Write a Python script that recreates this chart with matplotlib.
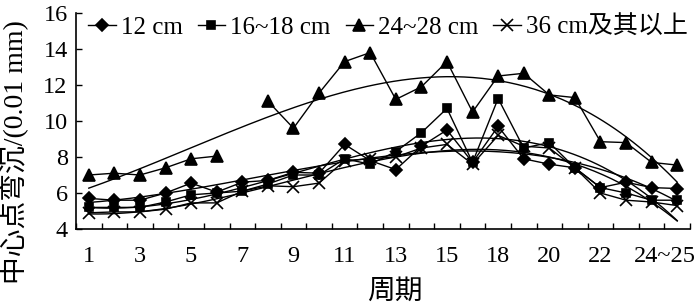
import numpy as np
import matplotlib
matplotlib.use('Agg')
import matplotlib.pyplot as plt

plt.rcParams['font.family'] = ['Liberation Serif', 'Noto Sans CJK SC']

# --- data ---
periods = [str(i) for i in range(1, 16)] + ['16~17', '18', '19', '20', '21', '22', '23', '24', '25']
d12 = [5.7, 5.6, 5.6, 6.0, 6.55, 6.05, 6.6, 6.7, 7.15, 7.1, 8.7, 7.8,
       7.3, 8.6, 9.5, 7.7, 9.7, 7.9, 7.6, 7.4, 6.3, 6.6, 6.3, 6.25]
d16 = [5.2, 5.2, 5.2, 5.5, 5.9, 6.0, 6.1, 6.5, 7.0, 7.0, 7.9, 7.6,
       8.3, 9.35, 10.7, 7.7, 11.25, 8.5, 8.8, 7.4, 6.3, 6.0, 5.6, 5.6]
d24 = [7.0, 7.1, 7.0, 7.4, 7.9, 8.05, np.nan, 11.1, 9.6, 11.55, 13.3, 13.8,
       11.2, 11.9, 13.3, 10.5, 12.5, 12.65, 11.45, 11.3, 8.85, 8.8, 7.7, 7.55]
d36 = [4.9, 4.95, 4.95, 5.1, 5.45, 5.45, 6.1, 6.4, 6.35, 6.55, 7.8, 7.9,
       8.0, 8.5, 8.7, 7.6, 9.2, 8.6, 8.5, 7.4, 6.0, 5.6, 5.5, 5.3]
names = ['12 cm', '16~18 cm', '24~28 cm', '36 cm及其以上']
yticks = [4, 6, 8, 10, 12, 14, 16]

series = [d12, d16, d24, d36]
markers = [('D', 6.5), ('s', 6), ('^', 8), ('x', 8.5)]

fig = plt.figure(figsize=(7, 3.07), dpi=100)
ax = fig.add_axes([76/700, 1-229/307, 614/700, 216/307])

x = np.arange(len(periods))
xs = np.linspace(0, len(periods)-1, 200)
for vals, (m, ms), name in zip(series, markers, names):
    y = np.array(vals, dtype=float)
    ax.plot(x, y, color='black', lw=1.0, marker=m, ms=ms, mew=1.2, label=name)
    # polynomial trendline (Excel style)
    ok = ~np.isnan(y)
    p = np.polyfit(x[ok], y[ok], 3)
    ax.plot(xs, np.polyval(p, xs), color='black', lw=1.0)

ax.set_xlim(-0.5, len(periods)-0.5)
ax.set_ylim(4, 16)
ax.set_yticks(yticks)
ax.set_yticklabels([str(v) for v in yticks], fontsize=17.5)

# labels every other category (major), category boundaries as minor ticks
lab_pos = list(range(0, 21, 2)) + [22.5]
lab_txt = [periods[i] for i in range(0, 21, 2)] + [periods[22] + '~' + periods[23]]
ax.set_xticks(lab_pos)
ax.set_xticklabels(lab_txt, fontsize=17.5)
ax.set_xticks(np.arange(-0.5, len(periods), 1), minor=True)
ax.xaxis.remove_overlapping_locs = False
ax.tick_params(axis='x', which='minor', direction='in', length=4, width=1)
ax.tick_params(axis='x', which='major', length=0, pad=12)
ax.tick_params(axis='y', direction='in', length=4, width=1, pad=6)

for s in ['top', 'right']:
    ax.spines[s].set_visible(False)
for s in ['left', 'bottom']:
    ax.spines[s].set_linewidth(1.2)

ax.legend(loc='center left', bbox_to_anchor=(0.02, 0.935), ncol=4, frameon=False,
          fontsize=18, handlelength=1.1, handletextpad=0.2, columnspacing=0.6,
          borderpad=0, borderaxespad=0)

fig.text(14/700, 1-152/307, '中心点弯沉/(0.01 mm)', rotation=90, fontsize=20,
         ha='center', va='center')
fig.text(395/700, 1-292/307, '周期', fontsize=20, ha='center', va='center')

fig.savefig('out.png', dpi=100)
